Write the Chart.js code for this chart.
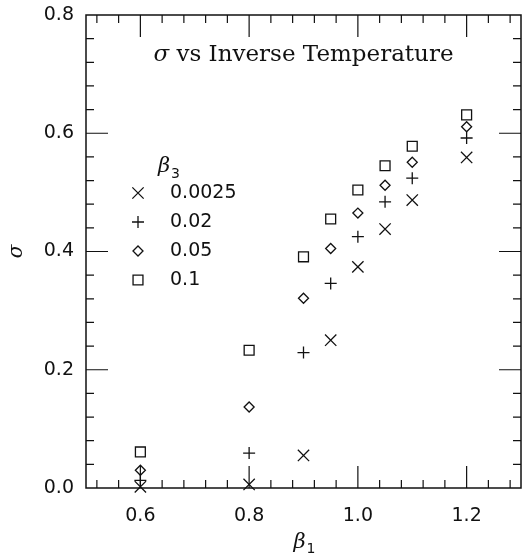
<!DOCTYPE html>
<html lang="en">
<head>
<meta charset="UTF-8" />
<title>σ vs Inverse Temperature</title>
<style>
  html, body { margin: 0; padding: 0; background: #fff; overflow: hidden; }
</style>
</head>
<body>
<canvas id="sigmaChart" width="522" height="556"></canvas>
<script src="https://cdn.jsdelivr.net/npm/chart.js@4.4.0/dist/chart.umd.min.js"></script>
<script>
  // beta_1 values (x) and sigma for each beta_3
  const beta1 = [0.6, 0.8, 0.9, 0.95, 1.0, 1.05, 1.1, 1.2];
  const beta3Labels = ['0.0025', '0.02', '0.05', '0.1'];
  const sigma0025 = [0.002, 0.006, 0.055, 0.250, 0.374, 0.438, 0.487, 0.559];
  const sigma002  = [0.013, 0.059, 0.229, 0.346, 0.425, 0.484, 0.524, 0.592];
  const sigma005  = [0.030, 0.137, 0.321, 0.405, 0.465, 0.512, 0.551, 0.611];
  const sigma01   = [0.061, 0.233, 0.391, 0.455, 0.504, 0.545, 0.578, 0.631];
  const xTicks = [0.6, 0.8, 1.0, 1.2];
  const yTicks = [0.0, 0.2, 0.4, 0.6, 0.8];

  const styles = [
    { pointStyle: 'crossRot', radius: 8 },
    { pointStyle: 'cross', radius: 6 },
    { pointStyle: 'rectRot', radius: 5 },
    { pointStyle: 'rect', radius: 7 }
  ];
  const series = [sigma0025, sigma002, sigma005, sigma01];

  const datasets = series.map((vals, i) => ({
    label: beta3Labels[i],
    data: beta1.map((b, j) => ({ x: b, y: vals[j] })),
    pointStyle: styles[i].pointStyle,
    pointRadius: styles[i].radius,
    pointHoverRadius: styles[i].radius,
    pointBorderColor: '#111',
    pointBackgroundColor: 'rgba(0,0,0,0)',
    pointBorderWidth: 1.3,
    showLine: false,
    clip: false
  }));

  const serif = '"DejaVu Serif", serif';

  // box, inward ticks, title, x label and legend
  const frame = {
    id: 'frame',
    afterDraw(chart) {
      const ctx = chart.ctx;
      const a = chart.chartArea;
      const xs = chart.scales.x, ys = chart.scales.y;
      ctx.save();
      ctx.strokeStyle = '#111';
      ctx.lineWidth = 1.5;
      ctx.strokeRect(a.left, a.top, a.right - a.left, a.bottom - a.top);

      ctx.lineWidth = 1.2;
      ctx.beginPath();
      for (let v = 0.52; v < 1.3; v += 0.04) {
        const px = xs.getPixelForValue(v);
        const major = xTicks.some(t => Math.abs(t - v) < 1e-6);
        const len = major ? 22 : 8;
        ctx.moveTo(px, a.bottom); ctx.lineTo(px, a.bottom - len);
        ctx.moveTo(px, a.top); ctx.lineTo(px, a.top + len);
      }
      for (let v = 0.04; v < 0.8; v += 0.04) {
        const py = ys.getPixelForValue(v);
        const major = yTicks.some(t => Math.abs(t - v) < 1e-6);
        const len = major ? 22 : 8;
        ctx.moveTo(a.left, py); ctx.lineTo(a.left + len, py);
        ctx.moveTo(a.right, py); ctx.lineTo(a.right - len, py);
      }
      ctx.stroke();

      // title
      ctx.fillStyle = '#111';
      ctx.textBaseline = 'middle';
      ctx.textAlign = 'left';
      const cx = (a.left + a.right) / 2;
      const ty = a.top + 40;
      ctx.font = 'italic 23px ' + serif;
      const s1 = 'σ';
      const w1 = ctx.measureText(s1).width;
      ctx.font = '23px ' + serif;
      const s2 = ' vs Inverse Temperature';
      const w2 = ctx.measureText(s2).width;
      const x0 = cx - (w1 + w2) / 2;
      ctx.font = 'italic 23px ' + serif;
      ctx.fillText(s1, x0, ty);
      ctx.font = '23px ' + serif;
      ctx.fillText(s2, x0 + w1, ty);

      // x axis label beta_1
      ctx.font = 'italic 21px ' + serif;
      ctx.fillText('β', cx - 10, a.bottom + 55);
      ctx.font = '14px "DejaVu Sans"';
      ctx.fillText('1', cx + 3, a.bottom + 61);

      // legend
      const lx = a.left + 52, tx = a.left + 84;
      ctx.font = 'italic 21px ' + serif;
      ctx.fillText('β', a.left + 72, a.top + 152);
      ctx.font = '14px "DejaVu Sans"';
      ctx.fillText('3', a.left + 85, a.top + 159);
      ctx.font = '19px "DejaVu Sans"';
      ctx.lineWidth = 1.3;
      datasets.forEach((d, i) => {
        const y = a.top + 178 + i * 29;
        ctx.strokeStyle = '#111';
        ctx.fillStyle = 'rgba(0,0,0,0)';
        Chart.helpers.drawPoint(ctx, {
          pointStyle: d.pointStyle, radius: d.pointRadius, rotation: 0, borderWidth: 1.3
        }, lx, y);
        ctx.fillStyle = '#111';
        ctx.fillText(d.label, tx, y);
      });
      ctx.restore();
    }
  };

  new Chart(document.getElementById('sigmaChart'), {
    type: 'scatter',
    data: { datasets },
    options: {
      responsive: false,
      animation: false,
      layout: { autoPadding: false, padding: { top: 15, right: 1, left: 0, bottom: 0 } },
      plugins: { legend: { display: false }, tooltip: { enabled: false } },
      scales: {
        x: {
          type: 'linear', min: 0.5, max: 1.3,
          grid: { display: false }, border: { display: false },
          afterBuildTicks: s => { s.ticks = xTicks.map(v => ({ value: v })); },
          afterFit: s => { s.height = 68; s.paddingLeft = 0; s.paddingRight = 0; },
          ticks: {
            padding: 9, color: '#111',
            font: { family: 'DejaVu Sans', size: 19 },
            callback: v => Number(v).toFixed(1)
          }
        },
        y: {
          type: 'linear', min: 0, max: 0.8,
          grid: { display: false }, border: { display: false },
          afterBuildTicks: s => { s.ticks = yTicks.map(v => ({ value: v })); },
          afterFit: s => { s.width = 86; s.paddingTop = 0; s.paddingBottom = 0; },
          ticks: {
            padding: 4, color: '#111',
            font: { family: 'DejaVu Sans', size: 19 },
            callback: v => Number(v).toFixed(1)
          },
          title: {
            display: true, text: 'σ', color: '#111',
            font: { family: 'DejaVu Serif', size: 20, style: 'italic' },
            padding: { top: 5, bottom: 0 }
          }
        }
      }
    },
    plugins: [frame]
  });
</script>
</body>
</html>
